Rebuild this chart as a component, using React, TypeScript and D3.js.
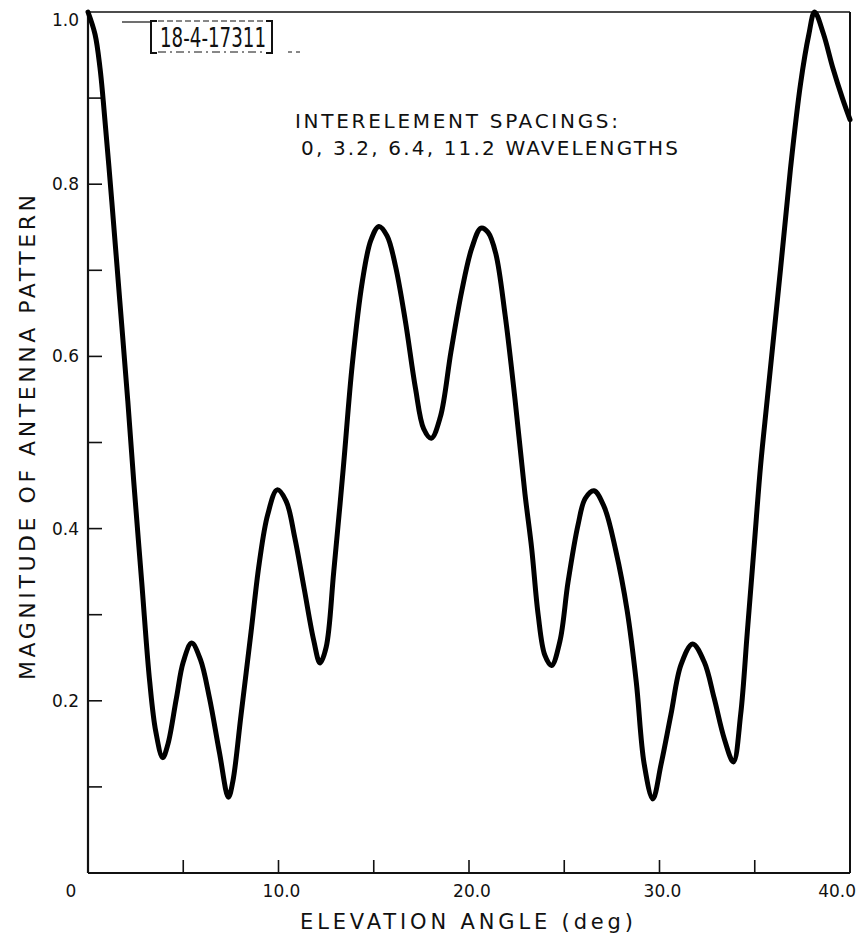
import React from "react";
import * as d3 from "d3";

// elevation angle (deg) and pattern magnitude
const angles = [
  0, 0.37, 0.63, 0.8, 1.25, 1.67, 2.09, 2.4, 2.82, 3.24, 3.56, 3.92, 4.2, 4.64, 5.0, 5.44,
  5.9, 6.38, 6.9, 7.37, 7.6, 8.03, 8.56, 8.99, 9.43, 9.93, 10.4, 10.85, 11.35, 11.85, 12.18,
  12.5, 12.9, 13.4, 13.87, 14.4, 14.85, 15.27, 15.7, 16.14, 16.66, 17.19, 17.62, 18.02,
  18.5, 19.05, 19.62, 20.15, 20.63, 21.0, 21.4, 21.89, 22.41, 22.94, 23.29, 23.63, 23.98,
  24.33, 24.77, 25.2, 25.73, 26.1, 26.56, 27.1, 27.7, 28.3, 28.78, 29.2, 29.65, 30.08,
  30.6, 31.13, 31.74, 32.35, 32.87, 33.4, 33.88, 34.26, 34.61, 34.96, 35.31, 35.66, 36.36,
  36.88, 37.4, 37.84, 38.14, 38.6, 39.1, 39.6, 40,
];
const magnitudes = [
  1.0, 0.974, 0.935, 0.897, 0.78, 0.664, 0.548, 0.455, 0.338, 0.222, 0.164, 0.134, 0.15, 0.203, 0.245, 0.267,
  0.248, 0.203, 0.14, 0.088, 0.106, 0.183, 0.28, 0.36, 0.416, 0.445, 0.432, 0.39, 0.33, 0.27, 0.244,
  0.262, 0.35, 0.47, 0.59, 0.687, 0.735, 0.751, 0.74, 0.705, 0.641, 0.563, 0.516, 0.505,
  0.53, 0.605, 0.676, 0.726, 0.749, 0.744, 0.72, 0.649, 0.551, 0.44, 0.377, 0.3, 0.253,
  0.241, 0.269, 0.338, 0.405, 0.435, 0.444, 0.425, 0.375, 0.305, 0.222, 0.126, 0.086, 0.126,
  0.184, 0.242, 0.266, 0.245, 0.203, 0.156, 0.129, 0.184, 0.28, 0.377, 0.474, 0.551, 0.703,
  0.819, 0.916, 0.974, 1.0, 0.975, 0.935, 0.9, 0.875,
];

const xTicks = [5, 10, 15, 20, 25, 30, 35];
const xLabels = ["10.0", "20.0", "30.0", "40.0"];
const yTicks = [0.1, 0.2, 0.3, 0.4, 0.5, 0.6, 0.7, 0.8, 0.9];
const yLabels = ["0.2", "0.4", "0.6", "0.8", "1.0"];

const font = "'DejaVu Sans', sans-serif";

export default function App() {
  const W = 861;
  const H = 938;
  const x = d3.scaleLinear().domain([0, 40]).range([88, 850]);
  const y = d3.scaleLinear().domain([0, 1]).range([873, 12]);

  const line = d3
    .line<number>()
    .x((d, i) => x(angles[i]))
    .y((d) => y(d))
    .curve(d3.curveCatmullRom.alpha(0.5));

  return (
    <svg
      width={W}
      height={H}
      style={{ position: "absolute", left: 0, top: 0, background: "#fff" }}
      fontFamily={font}
    >
      {/* frame */}
      <g stroke="#111" fill="none">
        <line x1={x(0)} x2={x(0)} y1={y(1)} y2={y(0)} strokeWidth={2.2} />
        <line x1={x(0)} x2={x(40)} y1={y(0)} y2={y(0)} strokeWidth={1.8} />
        <line x1={x(0)} x2={x(40)} y1={y(1)} y2={y(1)} strokeWidth={1.4} />
        <line x1={x(40)} x2={x(40)} y1={y(1)} y2={y(0)} strokeWidth={2} />
      </g>

      {/* ticks */}
      <g stroke="#111" strokeWidth={1.6}>
        {xTicks.map((t) => (
          <line key={"xt" + t} x1={x(t)} x2={x(t)} y1={y(0)} y2={y(0) - 13} />
        ))}
        {yTicks.map((t) => (
          <line key={"yt" + t} x1={x(0)} x2={x(0) + 14} y1={y(t)} y2={y(t)} />
        ))}
      </g>

      {/* tick labels */}
      <g fontSize={17} fill="#111">
        {xLabels.map((l) => {
          const v = +l;
          const last = v === 40;
          return (
            <text
              key={"xl" + l}
              x={last ? x(40) + 6 : x(v) + 3}
              y={897}
              textAnchor={last ? "end" : "middle"}
            >
              {l}
            </text>
          );
        })}
        <text x={x(0) - 17} y={897} textAnchor="middle">0</text>
        {yLabels.map((l) => (
          <text
            key={"yl" + l}
            x={79}
            y={Math.max(y(+l), 20) + 6}
            textAnchor="end"
          >
            {l}
          </text>
        ))}
      </g>

      {/* axis titles */}
      <text x={300} y={929} fontSize={21} fill="#111" textLength={333} lengthAdjust="spacing">
        ELEVATION ANGLE (deg)
      </text>
      <text
        transform="translate(35, 680) rotate(-90)"
        x={0}
        y={0}
        fontSize={22}
        fill="#111"
        textLength={485}
        lengthAdjust="spacing"
      >
        MAGNITUDE OF ANTENNA PATTERN
      </text>

      {/* annotation */}
      <g fontSize={20} fill="#111">
        <text x={295} y={128} textLength={323} lengthAdjust="spacing">
          INTERELEMENT SPACINGS:
        </text>
        <text x={301} y={155} textLength={377} lengthAdjust="spacing">
          0, 3.2, 6.4, 11.2 WAVELENGTHS
        </text>
      </g>

      {/* drawing number box */}
      <g stroke="#111" fill="none">
        <line x1={122} x2={151} y1={22} y2={22} strokeWidth={1.2} />
        <path d="M157,21 H151 V53 H157" strokeWidth={2} />
        <path d="M266,21 H272 V53 H266" strokeWidth={2} />
        <line x1={158} x2={265} y1={21} y2={21} strokeWidth={1} strokeDasharray="6 3" />
        <line x1={158} x2={265} y1={52} y2={52} strokeWidth={1} strokeDasharray="8 4 2 4" />
        <line x1={288} x2={300} y1={52} y2={52} strokeWidth={1} strokeDasharray="4 4" />
      </g>
      <text
        x={160}
        y={47}
        fontSize={26}
        fill="#111"
        textLength={106}
        lengthAdjust="spacingAndGlyphs"
      >
        18-4-17311
      </text>

      {/* pattern curve */}
      <path
        d={line(magnitudes) ?? ""}
        fill="none"
        stroke="#000"
        strokeWidth={5}
        strokeLinejoin="round"
        strokeLinecap="round"
      />
    </svg>
  );
}
